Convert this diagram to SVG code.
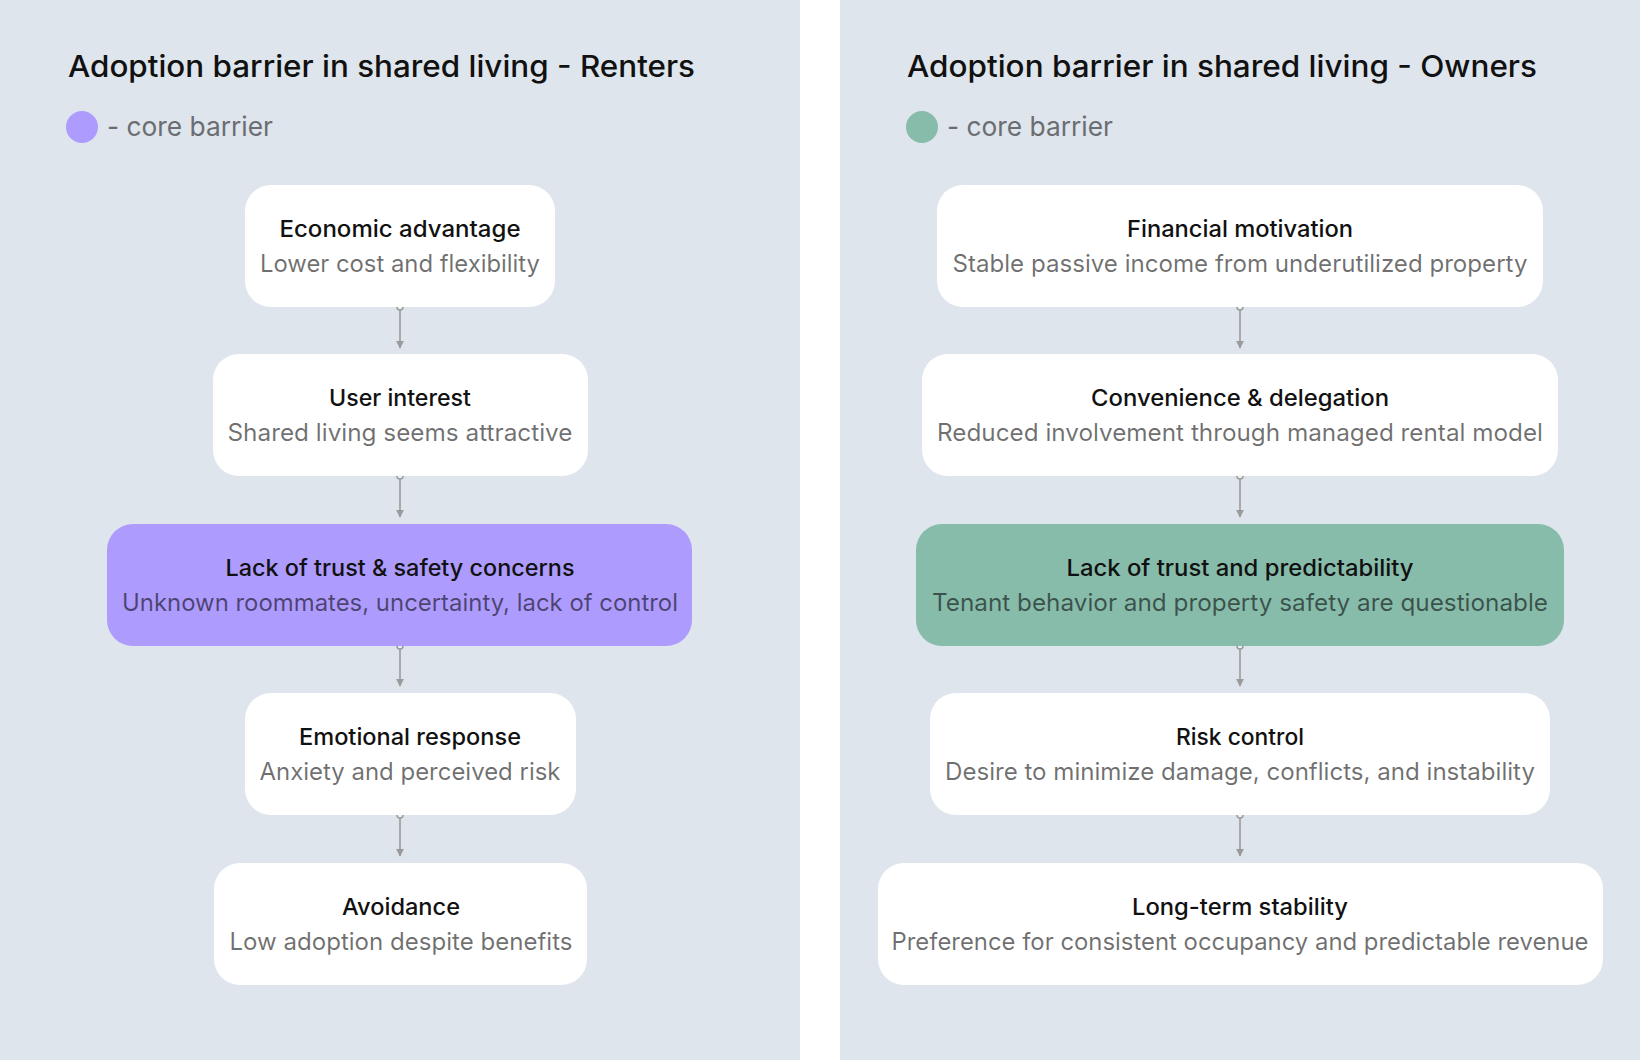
<svg xmlns="http://www.w3.org/2000/svg" width="1640" height="1060" viewBox="0 0 1640 1060">
  <defs>
    <marker id="arr" viewBox="0 0 10 10" refX="9" refY="5" markerWidth="8" markerHeight="8" markerUnits="userSpaceOnUse" orient="auto">
      <path d="M0,0 L10,5 L0,10 Z" fill="#9a9a9a"/>
    </marker>
    <style>
      .panel { fill: #dee5ec; }
      .title { font-family: Inter, "Liberation Sans", sans-serif; font-size: 30px; font-weight: 500; fill: #111111; }
      .legend { font-family: Inter, "Liberation Sans", sans-serif; font-size: 27px; fill: #6b6d72; }
      .node { fill: #ffffff; }
      .core-r { fill: #ae9bfe; }
      .core-o { fill: #87bbaa; }
      .nt { font-family: Inter, "Liberation Sans", sans-serif; font-size: 23px; font-weight: 500; fill: #111111; text-anchor: middle; }
      .ns { font-family: Inter, "Liberation Sans", sans-serif; font-size: 24px; fill: #000000; fill-opacity: 0.56; text-anchor: middle; }
      .conn { stroke: #9a9a9a; stroke-width: 1.6; fill: none; }
      .dot { stroke: #9a9a9a; stroke-width: 1.5; fill: #eef1f4; }
    </style>
  </defs>

  <rect x="0" y="0" width="1640" height="1060" fill="#ffffff"/>
  <rect class="panel" x="0" y="0" width="800" height="1060"/>
  <rect class="panel" x="840" y="0" width="800" height="1060"/>

  <g id="header-renters">
    <text class="title" x="68" y="77" textLength="627" lengthAdjust="spacingAndGlyphs">Adoption barrier in shared living - Renters</text>
    <circle cx="82" cy="127" r="16" fill="#ae9bfe"/>
    <text class="legend" x="107" y="136" textLength="166" lengthAdjust="spacingAndGlyphs">- core barrier</text>
  </g>
  <g id="header-owners">
    <text class="title" x="907" y="77" textLength="630" lengthAdjust="spacingAndGlyphs">Adoption barrier in shared living - Owners</text>
    <circle cx="922" cy="127" r="16" fill="#87bbaa"/>
    <text class="legend" x="947" y="136" textLength="166" lengthAdjust="spacingAndGlyphs">- core barrier</text>
  </g>

  <g id="connectors">
    <line class="conn" x1="400" y1="310" x2="400" y2="348" marker-end="url(#arr)"/>
    <circle class="dot" cx="400" cy="307" r="3"/>
    <line class="conn" x1="400" y1="479" x2="400" y2="517" marker-end="url(#arr)"/>
    <circle class="dot" cx="400" cy="476" r="3"/>
    <line class="conn" x1="400" y1="649" x2="400" y2="686" marker-end="url(#arr)"/>
    <circle class="dot" cx="400" cy="646" r="3"/>
    <line class="conn" x1="400" y1="818" x2="400" y2="856" marker-end="url(#arr)"/>
    <circle class="dot" cx="400" cy="815" r="3"/>

    <line class="conn" x1="1240" y1="310" x2="1240" y2="348" marker-end="url(#arr)"/>
    <circle class="dot" cx="1240" cy="307" r="3"/>
    <line class="conn" x1="1240" y1="479" x2="1240" y2="517" marker-end="url(#arr)"/>
    <circle class="dot" cx="1240" cy="476" r="3"/>
    <line class="conn" x1="1240" y1="649" x2="1240" y2="686" marker-end="url(#arr)"/>
    <circle class="dot" cx="1240" cy="646" r="3"/>
    <line class="conn" x1="1240" y1="818" x2="1240" y2="856" marker-end="url(#arr)"/>
    <circle class="dot" cx="1240" cy="815" r="3"/>
  </g>

  <!-- Renters column -->
  <g id="r-economic">
    <rect class="node" x="245" y="185" width="310" height="122" rx="26"/>
    <text class="nt" x="400" y="237" textLength="241" lengthAdjust="spacingAndGlyphs">Economic advantage</text>
    <text class="ns" x="400" y="272" textLength="280" lengthAdjust="spacingAndGlyphs">Lower cost and flexibility</text>
  </g>
  <g id="r-interest">
    <rect class="node" x="213" y="354" width="375" height="122" rx="26"/>
    <text class="nt" x="400" y="406" textLength="142" lengthAdjust="spacingAndGlyphs">User interest</text>
    <text class="ns" x="400" y="441" textLength="345" lengthAdjust="spacingAndGlyphs">Shared living seems attractive</text>
  </g>
  <g id="r-trust">
    <rect class="core-r" x="107" y="524" width="585" height="122" rx="26"/>
    <text class="nt" x="400" y="576" textLength="349" lengthAdjust="spacingAndGlyphs">Lack of trust &amp; safety concerns</text>
    <text class="ns" x="400" y="611" textLength="556" lengthAdjust="spacingAndGlyphs">Unknown roommates, uncertainty, lack of control</text>
  </g>
  <g id="r-emotional">
    <rect class="node" x="245" y="693" width="331" height="122" rx="26"/>
    <text class="nt" x="410" y="745" textLength="222" lengthAdjust="spacingAndGlyphs">Emotional response</text>
    <text class="ns" x="410" y="780" textLength="301" lengthAdjust="spacingAndGlyphs">Anxiety and perceived risk</text>
  </g>
  <g id="r-avoidance">
    <rect class="node" x="214" y="863" width="373" height="122" rx="26"/>
    <text class="nt" x="401" y="915" textLength="118" lengthAdjust="spacingAndGlyphs">Avoidance</text>
    <text class="ns" x="401" y="950" textLength="343" lengthAdjust="spacingAndGlyphs">Low adoption despite benefits</text>
  </g>

  <!-- Owners column -->
  <g id="o-financial">
    <rect class="node" x="937" y="185" width="606" height="122" rx="26"/>
    <text class="nt" x="1240" y="237" textLength="226" lengthAdjust="spacingAndGlyphs">Financial motivation</text>
    <text class="ns" x="1240" y="272" textLength="575" lengthAdjust="spacingAndGlyphs">Stable passive income from underutilized property</text>
  </g>
  <g id="o-convenience">
    <rect class="node" x="922" y="354" width="636" height="122" rx="26"/>
    <text class="nt" x="1240" y="406" textLength="298" lengthAdjust="spacingAndGlyphs">Convenience &amp; delegation</text>
    <text class="ns" x="1240" y="441" textLength="606" lengthAdjust="spacingAndGlyphs">Reduced involvement through managed rental model</text>
  </g>
  <g id="o-trust">
    <rect class="core-o" x="916" y="524" width="648" height="122" rx="26"/>
    <text class="nt" x="1240" y="576" textLength="347" lengthAdjust="spacingAndGlyphs">Lack of trust and predictability</text>
    <text class="ns" x="1240" y="611" textLength="616" lengthAdjust="spacingAndGlyphs">Tenant behavior and property safety are questionable</text>
  </g>
  <g id="o-risk">
    <rect class="node" x="930" y="693" width="620" height="122" rx="26"/>
    <text class="nt" x="1240" y="745" textLength="128" lengthAdjust="spacingAndGlyphs">Risk control</text>
    <text class="ns" x="1240" y="780" textLength="590" lengthAdjust="spacingAndGlyphs">Desire to minimize damage, conflicts, and instability</text>
  </g>
  <g id="o-longterm">
    <rect class="node" x="878" y="863" width="725" height="122" rx="26"/>
    <text class="nt" x="1240" y="915" textLength="216" lengthAdjust="spacingAndGlyphs">Long-term stability</text>
    <text class="ns" x="1240" y="950" textLength="697" lengthAdjust="spacingAndGlyphs">Preference for consistent occupancy and predictable revenue</text>
  </g>
</svg>
